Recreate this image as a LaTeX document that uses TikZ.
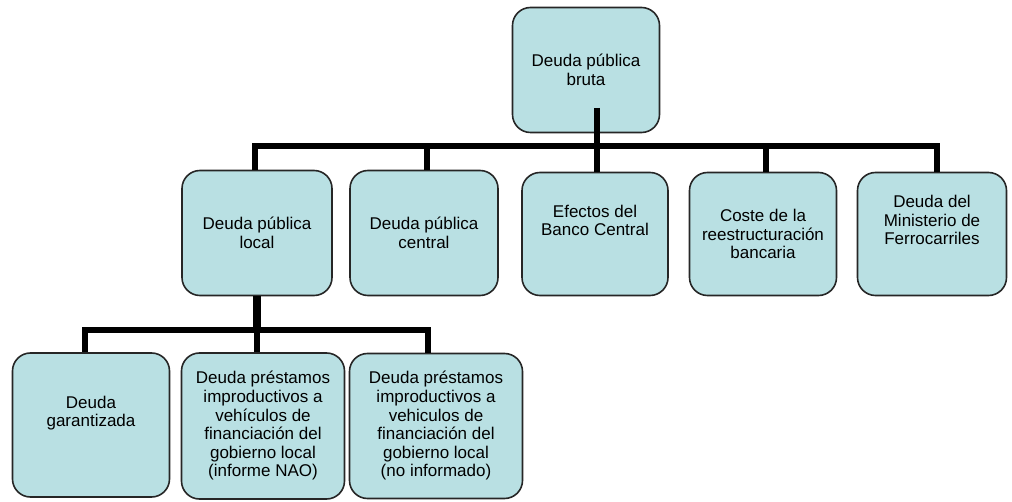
\documentclass[tikz,border=0pt]{standalone}
\usepackage{fontspec}
\setmainfont{Liberation Sans}
\usetikzlibrary{positioning}
\definecolor{celeste}{RGB}{185,224,227}
\tikzset{
    caja/.style={draw=black!85, line width=1.6pt, fill=celeste, rounded corners=18pt,
      align=center, font=\fontsize{17}{18.6}\selectfont, inner sep=2pt},
    conector/.style={draw=black, line width=6pt}
  }

\begin{document}
\begin{tikzpicture}[x=1pt, y=-1pt]
            \useasboundingbox (0,0) rectangle (1012,502);
            % nivel superior
            \node (bruta) [caja, minimum width=147pt, minimum height=125pt] at (586,70) {Deuda pública\\bruta};
            % segundo nivel
            \node (local) [caja, minimum width=150pt, minimum height=125pt] at (257,233) {Deuda pública\\local};
            \node (central) [caja, minimum width=148pt, minimum height=125pt] at (424,233) {Deuda pública\\central};
            \node (efectos) [caja, minimum width=146pt, minimum height=123pt] at (595,234) {Efectos del\\Banco Central\\[9pt]};
            \node (coste) [caja, minimum width=147pt, minimum height=123pt] at (763,234) {Coste de la\\reestructuración\\bancaria};
            \node (ferro) [caja, minimum width=149pt, minimum height=123pt] at (932,234) {Deuda del\\Ministerio de\\Ferrocarriles\\[9pt]};
            % tercer nivel
            \node (garant) [caja, minimum width=157pt, minimum height=144pt] at (91,425) {Deuda\\garantizada\\[9pt]};
            \node (nao) [caja, minimum width=163pt, minimum height=146pt] at (263,426) {Deuda préstamos\\improductivos a\\vehículos de\\financiación del\\gobierno local\\(informe NAO)};
            \node (noinf) [caja, minimum width=173pt, minimum height=145pt] at (436,426) {Deuda préstamos\\improductivos a\\vehiculos de\\financiación del\\gobierno local\\(no informado)};
            % conectores
            \coordinate (arranque) at (597,108);
            \coordinate (barra) at (597,146);
            \draw[conector] (arranque) -- (efectos.north -| arranque);
            \foreach \hijo/\xx in {local/255, central/427, coste/766, ferro/937}
              \draw[conector] (barra) -| (\xx,0 |- \hijo.north);
            \coordinate (barra2) at (257,330);
            \draw[conector, line width=8pt] (local.south) -- (barra2);
            \draw[conector] (barra2) -- (nao.north -| barra2);
            \foreach \hijo/\xx in {garant/85, noinf/428}
              \draw[conector] (barra2) -| (\xx,0 |- \hijo.north);
        \end{tikzpicture}
\end{document}
